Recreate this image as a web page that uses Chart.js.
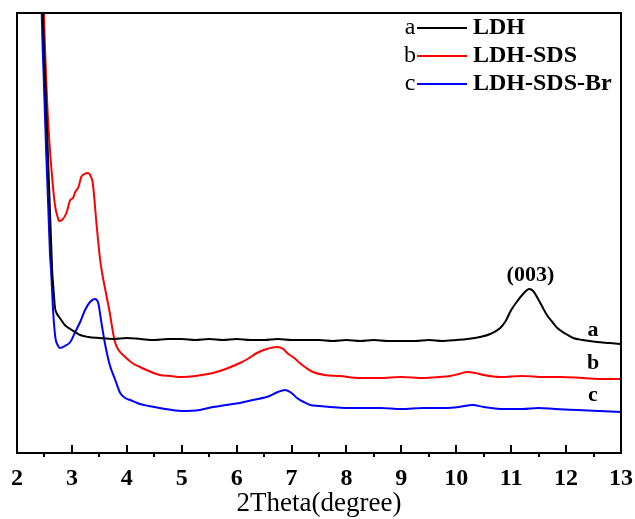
<!DOCTYPE html>
<html>
<head>
<meta charset="utf-8">
<script src="https://cdn.jsdelivr.net/npm/chart.js@4/dist/chart.umd.min.js"></script>
<style>
  body { margin: 0; background: #fff; }
  #wrap { width: 635px; height: 519px; }
</style>
</head>
<body>
<div id="wrap"><canvas id="xrd"></canvas></div>
<script>
// series names and letters used in the legend
const seriesNames = ['LDH', 'LDH-SDS', 'LDH-SDS-Br'];
const seriesLetters = ['a', 'b', 'c'];
const seriesColors = ['#000000', '#ff0000', '#0000ff'];

// x range (2Theta)
const xMin = 2;
const xMax = 13;

// LDH (a)
const ldhX = [2.40, 2.47, 2.52, 2.56, 2.60, 2.64, 2.67, 2.69, 2.73, 2.78, 2.87, 2.97, 3.06, 3.15, 3.3, 3.5, 3.75, 4.0, 4.25, 4.5, 4.75, 5.0, 5.25, 5.5, 5.75, 6.0, 6.25, 6.5, 6.75, 7.0, 7.25, 7.5, 7.75, 8.0, 8.25, 8.5, 8.75, 9.0, 9.25, 9.5, 9.75, 10.0, 10.2, 10.43, 10.62, 10.8, 10.9, 11.0, 11.1, 11.2, 11.33, 11.4, 11.47, 11.56, 11.65, 11.75, 11.84, 12.0, 12.13, 12.3, 12.56, 12.8, 13.0];
const ldhY = [600, 440, 364, 303, 243, 183, 160, 146, 139, 135, 128, 124, 121, 118, 116, 115, 114, 115, 114, 113, 114, 114, 113, 114, 113, 114, 113, 113, 114, 113, 113, 113, 112, 113, 112, 113, 112, 112, 112, 113, 112, 113, 114, 116, 119, 125, 132, 143, 151, 158, 164, 162, 156, 147, 138, 131, 125, 119, 115, 113, 111, 110, 109];

// LDH-SDS (b)
const sdsX = [2.42, 2.49, 2.55, 2.60, 2.64, 2.67, 2.70, 2.74, 2.77, 2.82, 2.90, 2.97, 3.02, 3.06, 3.12, 3.17, 3.23, 3.29, 3.35, 3.38, 3.45, 3.51, 3.55, 3.62, 3.69, 3.75, 3.79, 3.85, 3.97, 4.1, 4.24, 4.4, 4.6, 4.8, 5.0, 5.25, 5.57, 5.8, 6.06, 6.2, 6.37, 6.55, 6.74, 6.85, 6.92, 7.05, 7.15, 7.27, 7.39, 7.6, 7.88, 8.25, 8.6, 9.0, 9.4, 9.7, 9.89, 10.05, 10.2, 10.35, 10.5, 10.8, 11.2, 11.6, 11.9, 12.3, 12.7, 13.0];
const sdsY = [600, 440, 350, 303, 276, 258, 245, 236, 232, 233, 240, 253, 255, 261, 266, 276, 279, 280, 276, 270, 228, 195, 180, 160, 140, 120, 110, 103, 96, 90, 86, 82, 78, 77, 76, 77, 80, 84, 90, 94, 100, 104, 106, 104, 100, 95, 90, 85, 81, 78, 77, 75, 75, 76, 75, 76, 77, 79, 81, 80, 78, 76, 77, 76, 76, 75, 74, 74];

// LDH-SDS-Br (c)
const brX = [2.40, 2.45, 2.49, 2.53, 2.57, 2.60, 2.62, 2.66, 2.70, 2.74, 2.78, 2.87, 2.97, 3.06, 3.15, 3.24, 3.33, 3.42, 3.48, 3.53, 3.6, 3.69, 3.79, 3.88, 3.97, 4.06, 4.24, 4.4, 4.6, 5.0, 5.33, 5.57, 5.8, 6.06, 6.3, 6.6, 6.75, 6.88, 7.0, 7.1, 7.22, 7.34, 7.5, 7.7, 8.0, 8.3, 8.61, 9.0, 9.4, 9.8, 10.05, 10.3, 10.5, 10.8, 11.2, 11.5, 11.8, 12.2, 12.6, 13.0];
const brY = [600, 440, 370, 303, 245, 200, 183, 140, 115, 108, 105, 107, 111, 121, 131, 143, 151, 154, 150, 133, 110, 88, 73, 60, 55, 53, 49, 47, 45, 42, 43, 46, 48, 50, 53, 57, 61, 63, 60, 55, 51, 48, 47, 46, 45, 45, 45, 44, 45, 45, 46, 48, 46, 44, 44, 45, 44, 43, 42, 41];

// text labels placed in data coordinates
const noteText = ['(003)', 'a', 'b', 'c'];
const noteX = [11.35, 12.49, 12.49, 12.49];
const noteY = [178, 123, 90, 58];

const serif = "'Liberation Serif', 'Times New Roman', serif";

function toPoints(xs, ys) {
  return xs.map((x, i) => ({ x: x, y: ys[i] }));
}

// frame, ticks, legend and notes
const decorations = {
  id: 'decorations',
  afterDatasetsDraw(chart) {
    const ctx = chart.ctx;
    const area = chart.chartArea;
    const xs = chart.scales.x;
    const ys = chart.scales.y;
    ctx.save();

    // plot frame
    ctx.strokeStyle = '#000';
    ctx.lineWidth = 2;
    ctx.strokeRect(area.left, area.top, area.right - area.left, area.bottom - area.top);

    // major ticks point up, minor ticks point down
    for (let v = xMin; v <= xMax + 0.001; v += 0.5) {
      const px = Math.round(xs.getPixelForValue(v));
      const major = Math.abs(v - Math.round(v)) < 0.01;
      ctx.beginPath();
      ctx.moveTo(px, area.bottom);
      ctx.lineTo(px, major ? area.bottom - 8 : area.bottom + 4);
      ctx.stroke();
    }

    // legend
    const rowY = [28, 56, 84];
    ctx.textBaseline = 'middle';
    seriesNames.forEach((name, i) => {
      const y = rowY[i];
      ctx.fillStyle = '#000';
      ctx.font = '24px ' + serif;
      ctx.textAlign = 'center';
      ctx.fillText(seriesLetters[i], 410, y);
      ctx.strokeStyle = seriesColors[i];
      ctx.lineWidth = 2;
      ctx.beginPath();
      ctx.moveTo(417, y);
      ctx.lineTo(467, y);
      ctx.stroke();
      ctx.font = 'bold 24px ' + serif;
      ctx.textAlign = 'left';
      ctx.fillText(name, 473, y);
    });

    // curve notes
    ctx.font = 'bold 22px ' + serif;
    ctx.textAlign = 'center';
    ctx.fillStyle = '#000';
    noteText.forEach((t, i) => {
      ctx.fillText(t, xs.getPixelForValue(noteX[i]), ys.getPixelForValue(noteY[i]));
    });

    ctx.restore();
  }
};

const ctx = document.getElementById('xrd').getContext('2d');

new Chart(ctx, {
  type: 'line',
  data: {
    datasets: [
      { label: seriesNames[0], data: toPoints(ldhX, ldhY), borderColor: seriesColors[0] },
      { label: seriesNames[1], data: toPoints(sdsX, sdsY), borderColor: seriesColors[1] },
      { label: seriesNames[2], data: toPoints(brX, brY), borderColor: seriesColors[2] },
    ],
  },
  options: {
    responsive: true,
    maintainAspectRatio: false,
    animation: false,
    layout: { padding: { left: 17, right: 14, top: 13, bottom: 0 } },
    elements: {
      line: { borderWidth: 2, cubicInterpolationMode: 'monotone', fill: false },
      point: { radius: 0, hoverRadius: 0 },
    },
    plugins: {
      legend: { display: false },
      tooltip: { enabled: false },
    },
    scales: {
      x: {
        type: 'linear',
        min: xMin,
        max: xMax,
        grid: { display: false, drawTicks: false },
        border: { display: false },
        ticks: {
          stepSize: 1,
          padding: 14,
          color: '#000',
          maxRotation: 0,
          font: { family: serif, size: 24, weight: 'bold', lineHeight: 1 },
        },
        title: {
          display: true,
          text: '2Theta(degree)',
          color: '#000',
          padding: { top: 0, bottom: 2 },
          font: { family: serif, size: 27, weight: 'normal', lineHeight: 1 },
        },
        // fixed axis height, no extra side padding for edge labels
        afterFit(scale) {
          scale.height = 66;
          scale.paddingLeft = 0;
          scale.paddingRight = 0;
        },
      },
      y: {
        type: 'linear',
        min: 0,
        max: 440,
        display: false,
      },
    },
  },
  plugins: [decorations],
});
</script>
</body>
</html>
